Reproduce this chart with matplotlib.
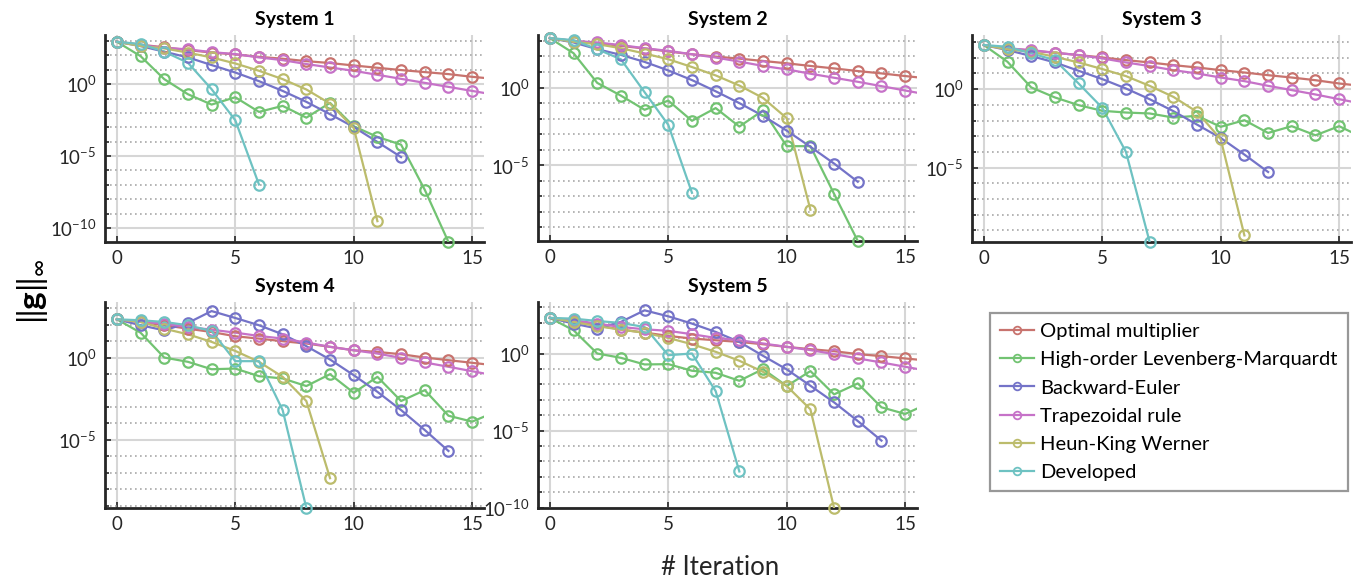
import numpy as np
import matplotlib
matplotlib.use("Agg")
import matplotlib.pyplot as plt
from matplotlib.lines import Line2D
from matplotlib.ticker import FixedLocator, NullFormatter, FuncFormatter

plt.rcParams["font.family"] = ["Lato", "DejaVu Sans"]
plt.rcParams["mathtext.fontset"] = "custom"
plt.rcParams["mathtext.rm"] = "Lato"
plt.rcParams["mathtext.it"] = "Lato:italic"
plt.rcParams["mathtext.bf"] = "Lato:bold"

# log10 of ||g||_inf, one list per system (iterations 0, 1, 2, ...)
optimal = [
    [2.95, 2.75, 2.56, 2.37, 2.2, 2.07, 1.9, 1.77, 1.6, 1.47, 1.3, 1.14, 0.98, 0.84, 0.7, 0.51, 0.36],
    [3.18, 3.0, 2.86, 2.68, 2.51, 2.32, 2.14, 1.99, 1.86, 1.71, 1.56, 1.39, 1.23, 1.06, 0.91, 0.74, 0.58],
    [2.81, 2.6, 2.45, 2.32, 2.17, 2.02, 1.85, 1.7, 1.53, 1.38, 1.21, 1.06, 0.89, 0.74, 0.57, 0.36, 0.2],
    [2.32, 2.16, 1.96, 1.75, 1.55, 1.29, 1.15, 0.99, 0.85, 0.65, 0.44, 0.34, 0.2, 0.0, -0.16, -0.32, -0.48],
    [2.31, 2.05, 1.83, 1.55, 1.36, 1.14, 0.97, 0.86, 0.75, 0.6, 0.43, 0.28, 0.15, -0.04, -0.17, -0.32, -0.47],
]
levenberg = [
    [2.95, 1.95, 0.35, -0.7, -1.42, -0.91, -1.93, -1.51, -2.33, -1.3, -2.93, -3.67, -4.21, -7.35, -10.98],
    [3.18, 2.21, 0.3, -0.52, -1.43, -0.84, -2.14, -1.32, -2.51, -1.47, -3.77, -3.77, -6.84, -9.87],
    [2.81, 1.74, 0.11, -0.53, -1.02, -1.38, -1.49, -1.55, -1.81, -1.7, -2.4, -1.98, -2.79, -2.36, -2.94, -2.36, -3.09],
    [2.32, 1.51, 0.0, -0.26, -0.71, -0.67, -1.13, -1.27, -1.73, -1.01, -2.14, -1.17, -2.64, -1.98, -3.53, -3.89, -3.29],
    [2.31, 1.51, 0.0, -0.28, -0.71, -0.69, -1.12, -1.25, -1.77, -1.01, -2.11, -1.14, -2.65, -1.94, -3.49, -3.92, -3.23],
]
backward_euler = [
    [2.95, 2.65, 2.26, 1.86, 1.33, 0.81, 0.21, -0.47, -1.23, -2.09, -2.98, -4.02, -5.07],
    [3.18, 2.9, 2.47, 2.1, 1.65, 1.1, 0.48, -0.24, -1.0, -1.82, -2.77, -3.81, -4.89, -6.06],
    [2.81, 2.49, 2.11, 1.7, 1.17, 0.64, 0.04, -0.64, -1.4, -2.26, -3.11, -4.17, -5.28],
    [2.32, 1.96, 1.65, 2.1, 2.82, 2.4, 1.96, 1.41, 0.69, -0.12, -1.07, -2.08, -3.19, -4.4, -5.67],
    [2.31, 1.94, 1.62, 2.05, 2.8, 2.41, 1.94, 1.4, 0.75, -0.15, -1.03, -2.09, -3.17, -4.38, -5.65],
]
trapezoidal = [
    [2.95, 2.72, 2.53, 2.42, 2.23, 2.09, 1.86, 1.67, 1.4, 1.16, 0.93, 0.65, 0.37, 0.09, -0.19, -0.47, -0.75],
    [3.18, 3.0, 2.9, 2.73, 2.53, 2.36, 2.14, 1.93, 1.67, 1.39, 1.17, 0.89, 0.63, 0.37, 0.09, -0.19, -0.47],
    [2.81, 2.6, 2.49, 2.32, 2.17, 1.96, 1.7, 1.47, 1.21, 1.0, 0.74, 0.51, 0.21, -0.06, -0.34, -0.64, -0.94],
    [2.32, 2.16, 2.06, 1.85, 1.69, 1.51, 1.31, 1.15, 0.91, 0.65, 0.44, 0.24, -0.02, -0.3, -0.56, -0.83, -1.1],
    [2.31, 2.16, 1.94, 1.72, 1.57, 1.47, 1.25, 1.01, 0.86, 0.65, 0.43, 0.22, -0.04, -0.32, -0.58, -0.86, -1.14],
]
heun = [
    [2.95, 2.65, 2.49, 2.19, 1.86, 1.44, 0.93, 0.35, -0.37, -1.35, -3.05, -9.53],
    [3.18, 2.94, 2.79, 2.53, 2.19, 1.82, 1.32, 0.78, 0.13, -0.67, -1.97, -7.86],
    [2.81, 2.53, 2.38, 2.06, 1.7, 1.28, 0.83, 0.21, -0.49, -1.45, -3.19, -9.32],
    [2.32, 2.16, 1.75, 1.41, 0.95, 0.4, -0.26, -1.17, -2.64, -7.32],
    [2.31, 2.05, 1.77, 1.55, 1.34, 1.01, 0.6, 0.11, -0.47, -1.19, -2.11, -3.62, -10.02],
]
developed = [
    [2.95, 2.79, 2.26, 1.49, -0.35, -2.51, -6.98],
    [3.18, 3.05, 2.47, 1.82, -0.3, -2.4, -6.77],
    [2.81, 2.7, 2.28, 1.85, 0.36, -1.19, -4.0, -9.74],
    [2.32, 2.26, 2.16, 1.96, 1.61, -0.22, -0.22, -3.19, -9.13],
    [2.31, 2.26, 2.11, 1.98, 1.72, -0.11, 0.0, -2.44, -7.65],
]

methods = ["Optimal multiplier", "High-order Levenberg-Marquardt", "Backward-Euler",
           "Trapezoidal rule", "Heun-King Werner", "Developed"]
series = [optimal, levenberg, backward_euler, trapezoidal, heun, developed]
colors = ["#c8736e", "#72c372", "#7473c8", "#c672c8", "#bcbc6c", "#6ec2c2"]
titles = ["System 1", "System 2", "System 3", "System 4", "System 5"]
ylims = [(-10.98, 3.42), (-9.87, 3.38), (-9.74, 3.45), (-9.13, 3.37), (-10.02, 3.34)]

W, H = 1359, 583
fig = plt.figure(figsize=(W / 100, H / 100), dpi=100)

# axes boxes in pixels: left, top, right, bottom
boxes = [(105, 35, 484, 242), (538, 35, 917, 241), (972, 35, 1351, 242),
         (105, 302, 484, 508), (538, 302, 917, 508)]


def sci(v, pos):
    e = int(round(np.log10(v)))
    return r"$10^{%d}$" % e


for k, (l, t, r, b) in enumerate(boxes):
    ax = fig.add_axes([l / W, 1 - b / H, (r - l) / W, (b - t) / H])
    ax.set_yscale("log")
    for vals, c in zip(series, colors):
        x = np.arange(len(vals[k]))
        y = 10.0 ** np.array(vals[k])
        ax.plot(x, y, "-", color=c, lw=1.6, zorder=3)
        keep = x <= 15
        ax.plot(x[keep], y[keep], "o", ms=7.5, mfc="none", mec=c, mew=1.6,
                clip_on=False, zorder=4)
    lo, hi = ylims[k]
    ax.set_ylim(10.0 ** lo, 10.0 ** hi)
    ax.set_xlim(-0.5, 15.5)
    ax.xaxis.set_major_locator(FixedLocator([0, 5, 10, 15]))
    ax.yaxis.set_major_locator(FixedLocator([1e-10, 1e-5, 1e0]))
    ax.yaxis.set_minor_locator(FixedLocator([10.0 ** e for e in range(-12, 5) if e % 5]))
    ax.yaxis.set_major_formatter(FuncFormatter(sci))
    ax.yaxis.set_minor_formatter(NullFormatter())
    ax.grid(True, which="major", color="#d6d6d6", lw=1.5, ls="-", zorder=0)
    ax.grid(True, which="minor", axis="y", color="#a8a8a8", lw=1.2, ls=(0, (1, 2)), zorder=0)
    ax.set_axisbelow(True)
    for s in ["top", "right"]:
        ax.spines[s].set_visible(False)
    for s in ["left", "bottom"]:
        ax.spines[s].set_linewidth(2.0)
        ax.spines[s].set_color("#262626")
    ax.tick_params(which="both", direction="in", labelsize=13.5, colors="#262626",
                   width=1.2)
    ax.tick_params(which="major", length=4, pad=6)
    ax.tick_params(which="minor", length=3)
    ax.set_title(titles[k], fontsize=14, fontweight="bold", pad=7)

fig.text(0.024, 0.5, r"$\|\mathbf{g}\|_{\infty}$", rotation=90, fontsize=24,
         ha="center", va="center")
fig.text(0.53, 0.026, "# Iteration", fontsize=18.5, ha="center", va="center", color="#262626")

handles = [Line2D([], [], color=c, lw=1.6, marker="o", ms=5.5, mfc="none", mec=c, mew=1.3)
           for c in colors]
leg = fig.legend(handles, methods, loc="upper left", bbox_to_anchor=(990 / W, 1 - 313 / H),
                 borderaxespad=0, fontsize=14.5, frameon=True, fancybox=False,
                 handlelength=1.7, handletextpad=0.3, labelspacing=0.55, borderpad=0.5)
leg.get_frame().set_edgecolor("#7f7f7f")
leg.get_frame().set_linewidth(1.6)

fig.savefig("out.png", dpi=100)
